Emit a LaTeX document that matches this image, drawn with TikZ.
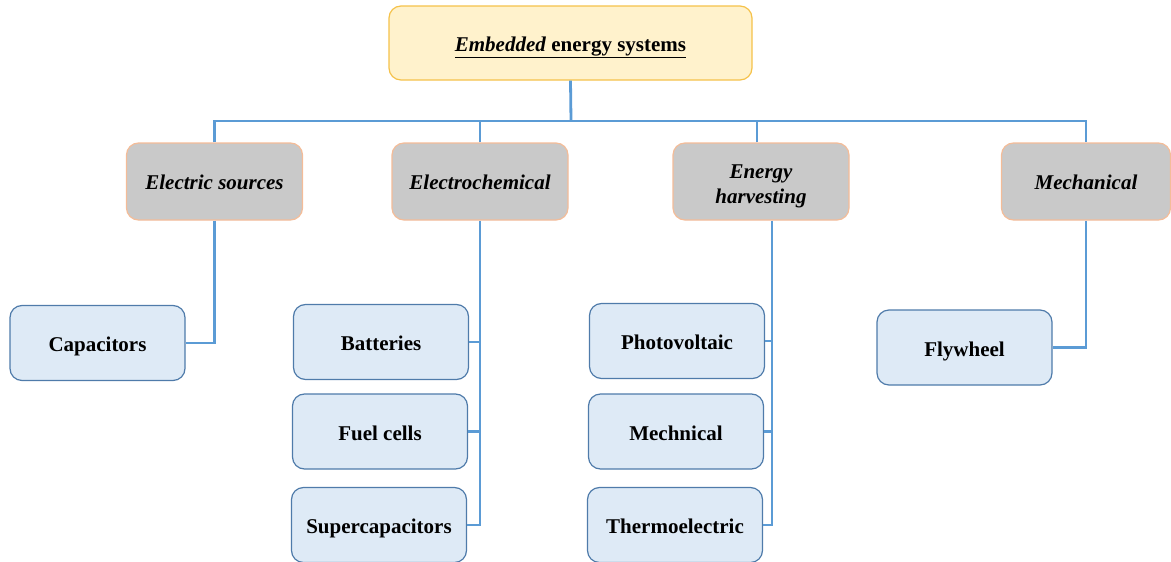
\documentclass[tikz,border=0pt]{standalone}
\usepackage{fontspec}
\setmainfont{Liberation Serif}
\definecolor{topfill}{HTML}{FFF2CC}
\definecolor{topdraw}{HTML}{F5C24A}
\definecolor{catfill}{HTML}{C9C9C9}
\definecolor{catdraw}{HTML}{F4BC98}
\definecolor{leaffill}{HTML}{DEEAF6}
\definecolor{leafdraw}{HTML}{4F7BAA}
\definecolor{linkblue}{HTML}{5B9BD5}
\begin{document}
\begin{tikzpicture}[x=1pt,y=-1pt,
  base/.style={rounded corners=12pt, line width=1.2pt, align=center, inner sep=0pt,
    text height=17pt, text depth=0pt,
    font=\fontsize{21}{25}\selectfont\bfseries},
  topbox/.style={base, fill=topfill, draw=topdraw, minimum width=363pt, minimum height=74pt},
  catbox/.style={base, fill=catfill, draw=catdraw, minimum width=176pt, minimum height=77pt,
    text height=15pt, font=\fontsize{21}{25}\selectfont\bfseries\itshape},
  leafbox/.style={base, fill=leaffill, draw=leafdraw, minimum width=175pt, minimum height=75pt},
  link/.style={draw=linkblue, line width=2.8pt}]
\useasboundingbox (0,0) rectangle (1171,562);

\coordinate (busR) at (1086,121);
\coordinate (tbus) at (571,121);

\node[topbox] (top) at (570.5,43) {\underline{\textit{Embedded} energy systems}};

\node[catbox] (es) at (214.5,181.5) {Electric sources};
\node[catbox] (ec) at (480,181.5) {Electrochemical};
\node[catbox, text height=43pt] (eh) at (761,181.5) {Energy\\harvesting};
\node[catbox, minimum width=169pt] (me) at (1086,181.5) {Mechanical};

\node[leafbox] (cap) at (97.5,343) {Capacitors};
\node[leafbox] (bat) at (381,342) {Batteries};
\node[leafbox] (fuel) at (380,431.5) {Fuel cells};
\node[leafbox] (sup) at (379,525) {Supercapacitors};
\node[leafbox] (pv) at (677,341) {Photovoltaic};
\node[leafbox] (mch) at (676,431.5) {Mechnical};
\node[leafbox] (th) at (675,525) {Thermoelectric};
\node[leafbox] (fly) at (964.5,347.5) {Flywheel};

\coordinate (ehb) at ([xshift=11pt]eh.south);
\coordinate (eht) at ([xshift=-4pt]eh.north);

\draw[link] (top.south) -- (tbus);
\draw[link] (es.north) |- (busR) -- (me.north);
\draw[link] (ec.north) -- (ec.north |- tbus);
\draw[link] (eht) -- (eht |- tbus);

\draw[link] (es.south) |- (cap.east);
\draw[link] (ec.south) |- (sup.east);
\draw[link] (bat.east) -- (bat.east -| ec.south);
\draw[link] (fuel.east) -- (fuel.east -| ec.south);
\draw[link] (ehb) |- (th.east);
\draw[link] (pv.east) -- (pv.east -| ehb);
\draw[link] (mch.east) -- (mch.east -| ehb);
\draw[link] (me.south) |- (fly.east);
\end{tikzpicture}
\end{document}
